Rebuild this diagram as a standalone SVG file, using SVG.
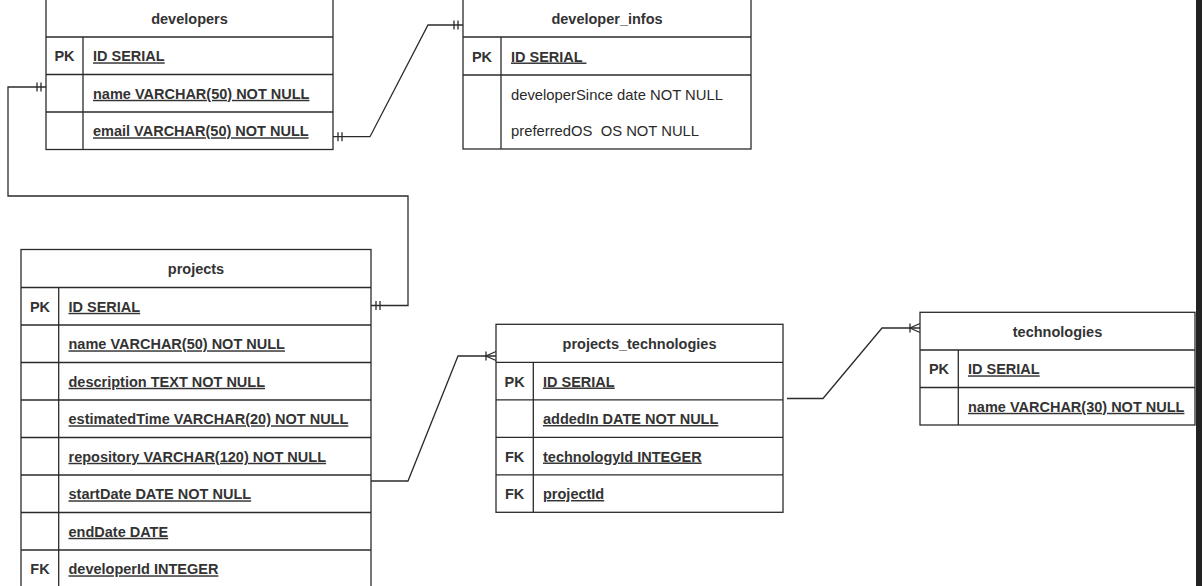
<svg xmlns="http://www.w3.org/2000/svg" width="1202" height="586" viewBox="0 0 1202 586">
<style>
.tb{fill:#fff;stroke:#2b2b2b;stroke-width:1.3}
.ln{stroke:#2b2b2b;stroke-width:1.3;fill:none}
.hd{font-family:"Liberation Sans",Arial,sans-serif;font-size:14.5px;font-weight:bold;fill:#333;text-anchor:middle}
.k{font-family:"Liberation Sans",Arial,sans-serif;font-size:14.5px;font-weight:bold;fill:#333;text-anchor:middle}
.f{font-family:"Liberation Sans",Arial,sans-serif;font-size:14.5px;font-weight:bold;fill:#333;text-decoration:underline;white-space:pre}
.r{font-family:"Liberation Sans",Arial,sans-serif;font-size:14.8px;fill:#2a2a2a;white-space:pre}
.cn{stroke:#2b2b2b;stroke-width:1.3;fill:none}
</style>
<defs>
<marker id="one" markerUnits="userSpaceOnUse" markerWidth="20" markerHeight="20" refX="0" refY="0" orient="auto-start-reverse" overflow="visible">
<path d="M-5,-4.5V4.5M-9,-4.5V4.5" stroke="#2b2b2b" stroke-width="1.3" fill="none"/>
</marker>
<marker id="many" markerUnits="userSpaceOnUse" markerWidth="20" markerHeight="20" refX="0" refY="0" orient="auto" overflow="visible">
<path d="M-10,-4.5V4.5M0,-4.5L-10,0L0,4.5" stroke="#2b2b2b" stroke-width="1.3" fill="none"/>
</marker>
</defs>
<rect x="0" y="0" width="1202" height="586" fill="#fff"/>
<rect x="1196" y="0" width="6" height="586" fill="#222"/>

<g id="connectors">
<path class="cn" d="M333,136.7H370L428,25H463" marker-start="url(#one)" marker-end="url(#one)"/>
<path class="cn" d="M46,87H8V196H408V305.5H371" marker-start="url(#one)" marker-end="url(#one)"/>
<path class="cn" d="M371,481H408L458,356H496" marker-end="url(#many)"/>
<path class="cn" d="M787,398.5H823L882,328H920" marker-end="url(#many)"/>
</g>

<g id="developers">
<rect class="tb" x="46" y="-1" width="287" height="150.5"/>
<path class="ln" d="M46,37H333M46,74.5H333M46,112H333M83,37V149.5"/>
<text class="hd" x="189.5" y="23.7">developers</text>
<text class="k" x="64.5" y="61.3">PK</text>
<text class="f" x="93" y="61.3">ID SERIAL</text>
<text class="f" x="93" y="98.8">name VARCHAR(50) NOT NULL</text>
<text class="f" x="93" y="136.3">email VARCHAR(50) NOT NULL</text>
</g>

<g id="developer_infos">
<rect class="tb" x="463" y="-1" width="288" height="150"/>
<path class="ln" d="M463,37H751M463,75H751M501,37V149"/>
<text class="hd" x="607" y="23.7">developer_infos</text>
<text class="k" x="482" y="61.5">PK</text>
<text class="f" x="511" y="61.5" xml:space="preserve">ID SERIAL </text>
<text class="r" x="511" y="100">developerSince date NOT NULL</text>
<text class="r" x="511" y="136" xml:space="preserve">preferredOS  OS NOT NULL</text>
</g>

<g id="projects">
<rect class="tb" x="21" y="249.5" width="350" height="340"/>
<path class="ln" d="M21,287.5H371M21,325H371M21,362.5H371M21,400H371M21,437.5H371M21,475H371M21,512.5H371M21,550H371M58.7,287.5V590"/>
<text class="hd" x="196" y="274">projects</text>
<text class="k" x="40" y="311.8">PK</text>
<text class="f" x="68.5" y="311.8">ID SERIAL</text>
<text class="f" x="68.5" y="349.3">name VARCHAR(50) NOT NULL</text>
<text class="f" x="68.5" y="386.8">description TEXT NOT NULL</text>
<text class="f" x="68.5" y="424.3">estimatedTime VARCHAR(20) NOT NULL</text>
<text class="f" x="68.5" y="461.8">repository VARCHAR(120) NOT NULL</text>
<text class="f" x="68.5" y="499.3">startDate DATE NOT NULL</text>
<text class="f" x="68.5" y="536.8">endDate DATE</text>
<text class="k" x="40" y="574.3">FK</text>
<text class="f" x="68.5" y="574.3">developerId INTEGER</text>
</g>

<g id="projects_technologies">
<rect class="tb" x="496" y="324.3" width="287" height="188"/>
<path class="ln" d="M496,362.3H783M496,399.8H783M496,437.3H783M496,474.8H783M533.3,362.3V512.3"/>
<text class="hd" x="639.5" y="348.8">projects_technologies</text>
<text class="k" x="514.7" y="386.5">PK</text>
<text class="f" x="543" y="386.5">ID SERIAL</text>
<text class="f" x="543" y="424">addedIn DATE NOT NULL</text>
<text class="k" x="514.7" y="461.5">FK</text>
<text class="f" x="543" y="461.5">technologyId INTEGER</text>
<text class="k" x="514.7" y="499">FK</text>
<text class="f" x="543" y="499">projectId</text>
</g>

<g id="technologies">
<rect class="tb" x="920" y="312.3" width="275" height="112.7"/>
<path class="ln" d="M920,350H1195M920,387.5H1195M958.3,350V425"/>
<text class="hd" x="1057.5" y="336.5">technologies</text>
<text class="k" x="939" y="374.3">PK</text>
<text class="f" x="968" y="374.3">ID SERIAL</text>
<text class="f" x="968" y="411.8">name VARCHAR(30) NOT NULL</text>
</g>
</svg>
